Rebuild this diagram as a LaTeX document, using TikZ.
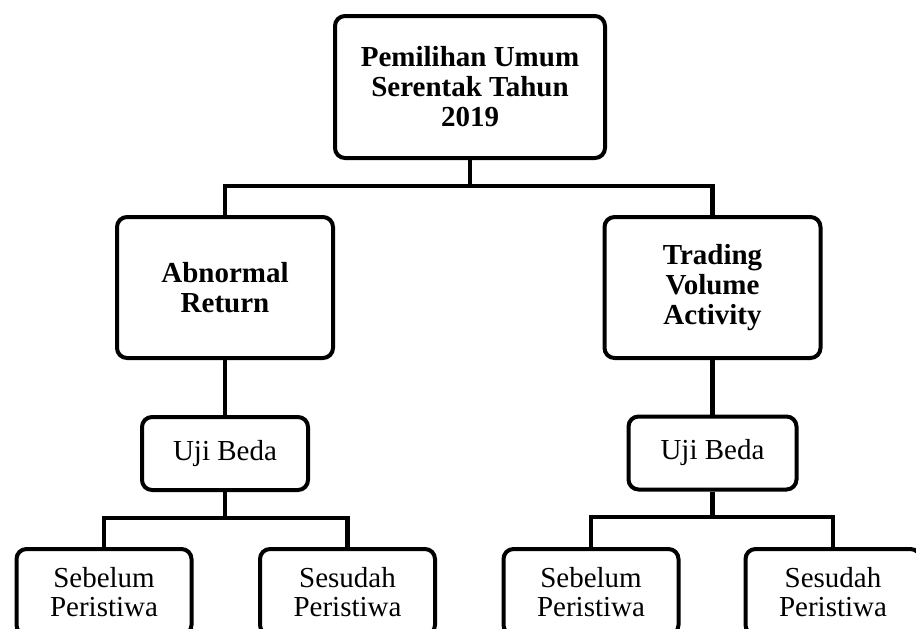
\documentclass[tikz,border=0pt]{standalone}
\usepackage{fontspec}
\setmainfont{Liberation Serif}
\usepackage{tikz}
\usetikzlibrary{positioning}

\begin{document}
\begin{tikzpicture}[x=0.5pt, y=-0.5pt,
    headbox/.style={rectangle, draw=black, line width=2pt, rounded corners=5pt, align=center, inner sep=0pt, font=\fontsize{14.5}{15}\selectfont\bfseries},
    testbox/.style={rectangle, draw=black, line width=2pt, rounded corners=5pt, align=center, inner sep=0pt, font=\fontsize{14.5}{14.5}\selectfont},
    conn/.style={draw=black, line width=2.4pt}
]
\useasboundingbox (0,0) rectangle (916,628);

% Top
\node[headbox, minimum width=135pt, minimum height=71pt] (pemilu) at (470,87) {Pemilihan Umum\\Serentak Tahun\\2019};

% Variables
\node[headbox, minimum width=108pt, minimum height=70.5pt] (ar) at (225,287.5) {Abnormal\\Return};
\node[headbox, minimum width=108pt, minimum height=70.5pt] (tva) at (712.5,287.5) {Trading\\Volume\\Activity};

% Uji Beda
\node[testbox, minimum width=83pt, minimum height=36.5pt] (ujiar) at (225,453.5) {Uji Beda};
\node[testbox, minimum width=84pt, minimum height=36.5pt] (ujitva) at (712.5,453) {Uji Beda};

% Periods
\node[testbox, minimum width=87.5pt, minimum height=43pt] (sbar) at (104,592) {Sebelum\\Peristiwa};
\node[testbox, minimum width=87.5pt, minimum height=43pt] (ssar) at (347.5,592) {Sesudah\\Peristiwa};
\node[testbox, minimum width=87.5pt, minimum height=43pt] (sbtva) at (591,592) {Sebelum\\Peristiwa};
\node[testbox, minimum width=87.5pt, minimum height=43pt] (sstva) at (833,592) {Sesudah\\Peristiwa};

% Connectors
\coordinate (busA) at (470,186);
\coordinate (busB) at (225,518);
\coordinate (busC) at (712.5,517);
\draw[conn] (pemilu.south) -- (busA);
\draw[conn] (ar.north) |- (busA) -| (tva.north);
\draw[conn] (ar.south) -- (ujiar.north);
\draw[conn] (tva.south) -- (ujitva.north);
\draw[conn] (ujiar.south) -- (busB);
\draw[conn] (sbar.north) |- (busB) -| (ssar.north);
\draw[conn] (ujitva.south) -- (busC);
\draw[conn] (sbtva.north) |- (busC) -| (sstva.north);

\end{tikzpicture}
\end{document}
